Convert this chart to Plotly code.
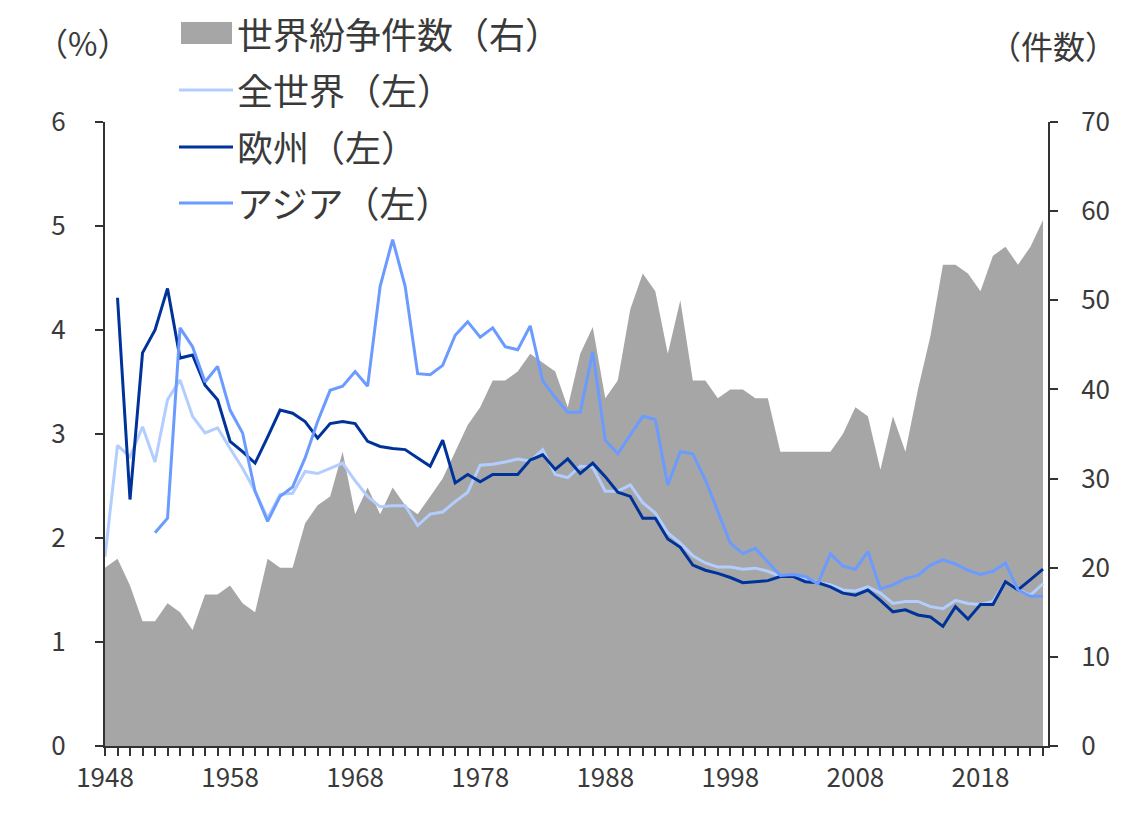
import plotly.graph_objects as go

# ===============================
# Datos
# ===============================
years = list(range(1948, 2024))

conflicts = [20, 21, 18, 14, 14, 16, 15, 13, 17, 17,
             18, 16, 15, 21, 20, 20, 25, 27, 28, 33,
             26, 29, 26, 29, 27, 26, 28, 30, 33, 36,
             38, 41, 41, 42, 44, 43, 42, 38, 44, 47,
             39, 41, 49, 53, 51, 44, 50, 41, 41, 39,
             40, 40, 39, 39, 33, 33, 33, 33, 33, 35,
             38, 37, 31, 37, 33, 40, 46, 54, 54, 53,
             51, 55, 56, 54, 56, 59]

world = [1.82, 2.89, 2.78, 3.07, 2.73, 3.33, 3.52, 3.17, 3.01, 3.06,
         2.86, 2.67, 2.45, 2.19, 2.42, 2.43, 2.64, 2.62, 2.67, 2.72,
         2.55, 2.40, 2.30, 2.31, 2.31, 2.12, 2.23, 2.25, 2.35, 2.44,
         2.70, 2.71, 2.73, 2.76, 2.74, 2.85, 2.61, 2.58, 2.69, 2.68,
         2.45, 2.45, 2.51, 2.34, 2.24, 2.05, 1.95, 1.83, 1.76, 1.72,
         1.72, 1.70, 1.71, 1.68, 1.63, 1.64, 1.61, 1.57, 1.55, 1.50,
         1.49, 1.53, 1.47, 1.37, 1.39, 1.39, 1.34, 1.32, 1.40, 1.37,
         1.36, 1.39, 1.58, 1.50, 1.45, 1.56]

europe = [None, 4.31, 2.37, 3.78, 4.00, 4.40, 3.73, 3.76, 3.47, 3.33,
          2.93, 2.83, 2.72, 2.97, 3.23, 3.20, 3.12, 2.96, 3.10, 3.12,
          3.10, 2.93, 2.88, 2.86, 2.85, 2.77, 2.69, 2.94, 2.53, 2.61,
          2.54, 2.61, 2.61, 2.61, 2.75, 2.80, 2.66, 2.76, 2.62, 2.72,
          2.59, 2.44, 2.40, 2.19, 2.19, 1.99, 1.91, 1.74, 1.69, 1.66,
          1.62, 1.57, 1.58, 1.59, 1.63, 1.63, 1.58, 1.57, 1.53, 1.47,
          1.45, 1.50, 1.40, 1.29, 1.31, 1.26, 1.24, 1.15, 1.34, 1.22,
          1.36, 1.36, 1.58, 1.50, 1.60, 1.70]

asia = [None, None, None, None, 2.05, 2.19, 4.02, 3.84, 3.50, 3.65,
        3.23, 3.01, 2.45, 2.16, 2.40, 2.49, 2.77, 3.12, 3.42, 3.46,
        3.60, 3.46, 4.42, 4.87, 4.42, 3.58, 3.57, 3.66, 3.95, 4.08,
        3.93, 4.02, 3.84, 3.81, 4.04, 3.51, 3.35, 3.21, 3.21, 3.79,
        2.94, 2.81, 2.99, 3.17, 3.14, 2.51, 2.83, 2.81, 2.56, 2.25,
        1.95, 1.85, 1.90, 1.77, 1.64, 1.65, 1.63, 1.56, 1.85, 1.73,
        1.70, 1.87, 1.51, 1.55, 1.61, 1.64, 1.74, 1.79, 1.75, 1.69,
        1.65, 1.68, 1.76, 1.50, 1.44, 1.44]

x_ticks = list(range(1948, 2019, 10))

names = ["世界紛争件数（右）", "全世界（左）", "欧州（左）", "アジア（左）"]
GRAY = "#A6A6A6"
C_WORLD = "#B3CDFF"
C_EUROPE = "#003399"
C_ASIA = "#6B9BFF"
TXT = "#3A3A3A"
FONT = "Noto Sans CJK JP"

fig = go.Figure()

# Área: conflictos (eje derecho = yaxis principal, se dibuja debajo)
fig.add_trace(go.Scatter(
    x=years, y=conflicts, name=names[0], mode="lines",
    line=dict(width=0, color=GRAY), fill="tozeroy", fillcolor=GRAY,
    yaxis="y", showlegend=False
))

# Líneas en % (eje izquierdo = yaxis2, encima del área)
for vals, nm, col in [(world, names[1], C_WORLD),
                      (europe, names[2], C_EUROPE),
                      (asia, names[3], C_ASIA)]:
    fig.add_trace(go.Scatter(
        x=years, y=vals, name=nm, mode="lines",
        line=dict(width=3, color=col), yaxis="y2",
        connectgaps=False, showlegend=False
    ))

# =====================
# Leyenda manual (formas + textos en coordenadas de papel)
# =====================
L, R, T, B = 105, 1048, 122, 746


def px(xp):
    return (xp - L) / (R - L)


def py(yp):
    return (B - yp) / (B - T)


shapes = [dict(type="rect", xref="paper", yref="paper",
               x0=px(181), x1=px(232), y0=py(44), y1=py(22),
               fillcolor=GRAY, line=dict(width=0))]
legend_rows = [(33, None), (89, C_WORLD), (146, C_EUROPE), (202, C_ASIA)]
annotations = []
for (yc, col), nm in zip(legend_rows, names):
    if col:
        shapes.append(dict(type="line", xref="paper", yref="paper",
                           x0=px(179), x1=px(233), y0=py(yc + 1), y1=py(yc + 1),
                           line=dict(color=col, width=3)))
    annotations.append(dict(text=nm, xref="paper", yref="paper",
                            x=px(235), y=py(yc), xanchor="left", yanchor="middle",
                            showarrow=False, font=dict(size=36, color=TXT, family=FONT)))

annotations.append(dict(text="（%）", xref="paper", yref="paper",
                        x=px(82), y=py(42), xanchor="center", yanchor="middle",
                        showarrow=False, font=dict(size=32, color=TXT, family=FONT)))
annotations.append(dict(text="（件数）", xref="paper", yref="paper",
                        x=px(1053), y=py(45), xanchor="center", yanchor="middle",
                        showarrow=False, font=dict(size=32, color=TXT, family=FONT)))

axis_common = dict(showline=True, linecolor="#333333", linewidth=2,
                   ticks="outside", tickcolor="#333333", tickwidth=2, ticklen=8,
                   showgrid=False, zeroline=False,
                   tickfont=dict(size=26, color=TXT, family=FONT))

fig.update_layout(
    width=1132, height=814,
    margin=dict(l=L, r=1132 - R, t=T, b=814 - B),
    paper_bgcolor="white", plot_bgcolor="white",
    font=dict(family=FONT, color=TXT),
    showlegend=False,
    shapes=shapes, annotations=annotations,
    xaxis=dict(range=[1948, 2023.4], tickvals=x_ticks,
               minor=dict(dtick=1, tick0=1948, ticks="outside", ticklen=8,
                          tickwidth=2, tickcolor="#333333"),
               **axis_common),
    yaxis=dict(side="right", range=[0, 70], dtick=10,
               ticklabelstandoff=18, **axis_common),
    yaxis2=dict(side="left", overlaying="y", range=[0, 6], dtick=1,
                ticklabelstandoff=24, **axis_common),
)

fig.write_html("out.html", config={"displayModeBar": False},
               post_script="document.body.style.margin='0';")
